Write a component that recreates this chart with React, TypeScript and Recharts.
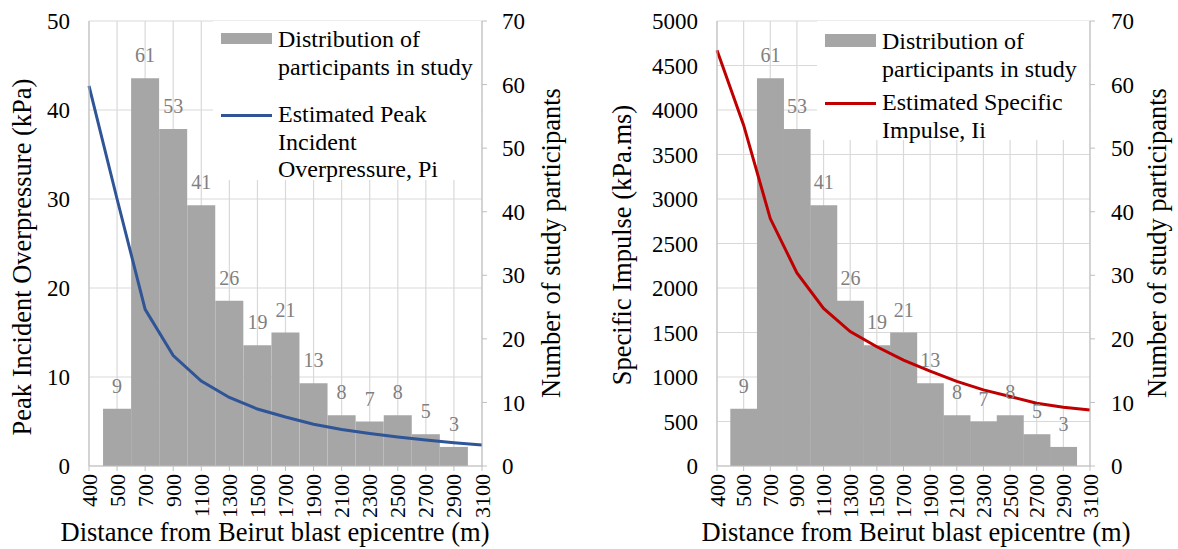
import React from 'react';
import {
    ComposedChart,
    Bar,
    Line,
    XAxis,
    YAxis,
    CartesianGrid,
    Legend,
    LabelList
} from 'recharts';

const FONT = '"Liberation Serif", "Times New Roman", serif';
const BAR_COLOR = '#a6a6a6';
const GRID_COLOR = '#d9d9d9';
const AXIS_COLOR = '#bfbfbf';

// Category axis (m from the epicentre)
const distanceLabels = ['400', '500', '700', '900', '1100', '1300', '1500', '1700', '1900', '2100', '2300', '2500', '2700', '2900', '3100'];
// Participants per distance bin (no bin at the two ends)
const participantCounts = [null, 9, 61, 53, 41, 26, 19, 21, 13, 8, 7, 8, 5, 3, null];
// Estimated peak incident overpressure, kPa
const peakOverpressure = [42.7, 30.0, 17.6, 12.4, 9.55, 7.7, 6.4, 5.5, 4.7, 4.1, 3.65, 3.25, 2.92, 2.62, 2.35];
// Estimated specific impulse, kPa.ms
const specificImpulse = [4670, 3830, 2780, 2170, 1770, 1510, 1340, 1190, 1065, 950, 855, 780, 705, 660, 630];

const pressureTicks = [0, 10, 20, 30, 40, 50];
const impulseTicks = [0, 500, 1000, 1500, 2000, 2500, 3000, 3500, 4000, 4500, 5000];
const participantTicks = [0, 10, 20, 30, 40, 50, 60, 70];

const rows = distanceLabels.map((label, i) => ({
    idx: i,
    label,
    participants: participantCounts[i],
    pi: peakOverpressure[i],
    ii: specificImpulse[i]
}));
const distanceTicks = distanceLabels.map((_, i) => i);

const DistanceTick = (props: any) => {
    const { x, y, payload } = props;
    return (
        <text
            x={x}
            y={y}
            transform={`rotate(-90 ${x} ${y})`}
            textAnchor="end"
            dominantBaseline="central"
            fontSize={22}
            fill="#000"
            fontFamily={FONT}
        >
            {distanceLabels[payload.value]}
        </text>
    );
};

const Title = ({ tx, ty, angle = 0, text }: { tx: number; ty: number; angle?: number; text: string }) => (
    <text
        transform={`translate(${tx} ${ty}) rotate(${angle})`}
        textAnchor="middle"
        fontSize={26.5}
        fill="#000"
        fontFamily={FONT}
    >
        {text}
    </text>
);

interface LegendBox {
    left: number;
    top: number;
    width: number;
    height: number;
    entry1Top: number;
    entry2Top: number;
    rectTop: number;
    rectHeight: number;
}

const makeLegend = (barLines: string[], lineLines: string[], color: string, box: LegendBox) => () => (
    <div style={{ position: 'relative', width: box.width, height: box.height, fontFamily: FONT, fontSize: 24, lineHeight: '27.5px', color: '#000' }}>
        <div style={{ position: 'absolute', left: 8, top: box.entry1Top }}>
            <div style={{ position: 'absolute', left: 0, top: box.rectTop, width: 51, height: box.rectHeight, background: BAR_COLOR }} />
            <div style={{ position: 'absolute', left: 57, top: 0, whiteSpace: 'nowrap' }}>
                {barLines.map(l => <div key={l}>{l}</div>)}
            </div>
        </div>
        <div style={{ position: 'absolute', left: 8, top: box.entry2Top }}>
            <div style={{ position: 'absolute', left: 0, top: 12.25, width: 51, height: 3, background: color }} />
            <div style={{ position: 'absolute', left: 57, top: 0, whiteSpace: 'nowrap' }}>
                {lineLines.map(l => <div key={l}>{l}</div>)}
            </div>
        </div>
    </div>
);

interface PanelProps {
    left: number;
    dataKey: string;
    color: string;
    leftTicks: number[];
    leftWidth: number;
    rightWidth: number;
    leftTitle: string;
    leftTitlePos: [number, number];
    rightTitlePos: [number, number];
    xTitlePos: [number, number];
    rightTickMargin: number;
    lineLegend: string[];
    legendBox: LegendBox;
}

const Panel: React.FC<PanelProps> = p => (
    <div style={{ position: 'absolute', left: p.left, top: 0 }}>
        <ComposedChart
            width={589}
            height={549}
            data={rows}
            margin={{ top: 21, right: 0, bottom: 0, left: 0 }}
            barCategoryGap={0}
        >
            <CartesianGrid yAxisId="left" stroke={GRID_COLOR} strokeWidth={1.2} />
            <XAxis
                dataKey="idx"
                type="number"
                domain={[0, distanceLabels.length - 1]}
                ticks={distanceTicks}
                interval={0}
                height={83}
                tick={<DistanceTick />}
                tickSize={5}
                tickMargin={3}
                stroke={AXIS_COLOR}
                label={{ content: () => <Title tx={p.xTitlePos[0]} ty={p.xTitlePos[1]} text="Distance from Beirut blast epicentre (m)" /> }}
            />
            <YAxis
                yAxisId="left"
                domain={[0, p.leftTicks[p.leftTicks.length - 1]]}
                ticks={p.leftTicks}
                interval={0}
                width={p.leftWidth}
                tickLine={false}
                tickSize={0}
                tickMargin={19}
                stroke={AXIS_COLOR}
                tick={{ fill: '#000', fontSize: 23 }}
                label={{ content: () => <Title tx={p.leftTitlePos[0]} ty={p.leftTitlePos[1]} angle={-90} text={p.leftTitle} /> }}
            />
            <YAxis
                yAxisId="right"
                orientation="right"
                domain={[0, 70]}
                ticks={participantTicks}
                interval={0}
                width={p.rightWidth}
                tickSize={5}
                tickMargin={p.rightTickMargin}
                stroke={AXIS_COLOR}
                tick={{ fill: '#000', fontSize: 23 }}
                label={{ content: () => <Title tx={p.rightTitlePos[0]} ty={p.rightTitlePos[1]} angle={-90} text="Number of study participants" /> }}
            />
            <Bar yAxisId="right" dataKey="participants" name="Distribution of participants in study" fill={BAR_COLOR} isAnimationActive={false}>
                <LabelList dataKey="participants" position="top" offset={16} fill="#808080" fontSize={20} fontFamily={FONT} />
            </Bar>
            <Line
                yAxisId="left"
                type="linear"
                dataKey={p.dataKey}
                stroke={p.color}
                strokeWidth={3}
                dot={false}
                activeDot={false}
                isAnimationActive={false}
            />
            <Legend
                layout="horizontal"
                verticalAlign="middle"
                align="center"
                content={makeLegend(['Distribution of', 'participants in study'], p.lineLegend, p.color, p.legendBox)}
                wrapperStyle={{
                    left: p.legendBox.left,
                    top: p.legendBox.top,
                    width: p.legendBox.width,
                    height: p.legendBox.height,
                    background: '#fff'
                }}
            />
        </ComposedChart>
    </div>
);

export default function App() {
    return (
        <div style={{ position: 'absolute', left: 0, top: 0, width: 1178, height: 549, background: '#fff', fontFamily: FONT }}>
            <Panel
                left={0}
                dataKey="pi"
                color="#2f5597"
                leftTicks={pressureTicks}
                leftWidth={89}
                rightWidth={107}
                leftTitle="Peak Incident Overpressure (kPa)"
                leftTitlePos={[31, 257]}
                rightTitlePos={[560, 243]}
                xTitlePos={[275, 541]}
                rightTickMargin={15}
                lineLegend={['Estimated Peak', 'Incident', 'Overpressure, Pi']}
                legendBox={{ left: 213, top: 21, width: 268, height: 159, entry1Top: 5, entry2Top: 80.25, rectTop: 7.3, rectHeight: 11 }}
            />
            <Panel
                left={589}
                dataKey="ii"
                color="#c00000"
                leftTicks={impulseTicks}
                leftWidth={128}
                rightWidth={88}
                leftTitle="Specific Impulse (kPa.ms)"
                leftTitlePos={[42, 245]}
                rightTitlePos={[577, 243]}
                xTitlePos={[327, 541]}
                rightTickMargin={16}
                lineLegend={['Estimated Specific', 'Impulse, Ii']}
                legendBox={{ left: 228, top: 21, width: 272, height: 119, entry1Top: 7, entry2Top: 68.25, rectTop: 5.5, rectHeight: 13 }}
            />
        </div>
    );
}
